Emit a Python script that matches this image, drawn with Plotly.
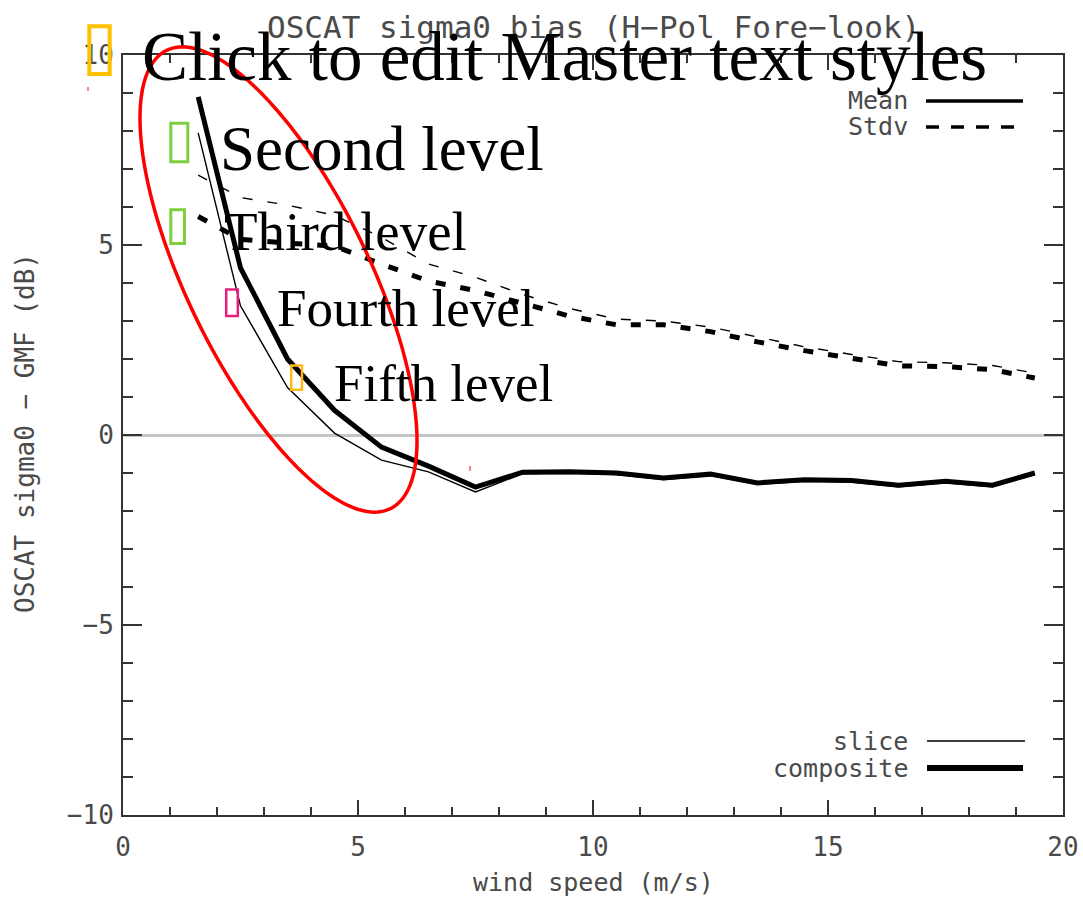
import numpy as np
import plotly.graph_objects as go

# ---- data -------------------------------------------------------------
wind_speed = [1.6, 2.5, 3.5, 4.5, 5.5, 6.5, 7.5, 8.5, 9.5, 10.5,
              11.5, 12.5, 13.5, 14.5, 15.5, 16.5, 17.5, 18.5, 19.4]

composite_mean = [8.9, 4.4, 2.0, 0.65, -0.32, -0.82, -1.37, -0.98, -0.97, -1.0,
                  -1.13, -1.03, -1.26, -1.18, -1.2, -1.32, -1.22, -1.32, -1.0]
slice_mean = [7.95, 3.4, 1.25, 0.05, -0.66, -0.97, -1.5, -1.02, -1.01, -1.04,
              -1.17, -1.07, -1.3, -1.22, -1.24, -1.36, -1.26, -1.36, -1.04]

composite_stdv = [5.75, 5.15, 5.05, 4.97, 4.5, 4.05, 3.8, 3.45, 3.13, 2.9,
                  2.9, 2.72, 2.45, 2.22, 2.03, 1.82, 1.8, 1.72, 1.5]
slice_stdv = [6.84, 6.25, 6.05, 5.78, 5.2, 4.5, 4.15, 3.7, 3.33, 3.05,
              3.0, 2.84, 2.58, 2.32, 2.12, 1.93, 1.9, 1.83, 1.63]

x_ticks = [0, 5, 10, 15, 20]
y_ticks = [-10, -5, 0, 5, 10]

title_text = "OSCAT sigma0 bias (H\u2212Pol Fore\u2212look)"
x_title = "wind speed (m/s)"
y_title = "OSCAT sigma0 \u2212 GMF (dB)"

outline_levels = ["Click to edit Master text styles", "Second level",
                  "Third level", "Fourth level", "Fifth level"]

# ---- page geometry (pixels) -------------------------------------------
W, H = 1083, 897
L, R, T, B = 123, 20, 55, 82
PW, PH = W - L - R, H - T - B


def px(x):
    return (x - L) / PW


def py(y):
    return (H - B - y) / PH


AXIS = "#333333"
MONO = "DejaVu Sans Mono"
TEXT_GREY = "#4a4a4a"
LABEL_FONT = dict(family=MONO, size=26, color=TEXT_GREY)

fig = go.Figure()

# thin = individual slice, thick = composite
fig.add_trace(go.Scatter(x=wind_speed, y=slice_stdv, mode="lines", name="slice Stdv",
                         line=dict(color="black", width=1.4, dash="10px,15px")))
fig.add_trace(go.Scatter(x=wind_speed, y=composite_stdv, mode="lines", name="composite Stdv",
                         line=dict(color="black", width=5, dash="10px,15px")))
fig.add_trace(go.Scatter(x=wind_speed, y=slice_mean, mode="lines", name="slice Mean",
                         line=dict(color="black", width=1.4)))
fig.add_trace(go.Scatter(x=wind_speed, y=composite_mean, mode="lines", name="composite Mean",
                         line=dict(color="black", width=5)))

common_axis = dict(
    showline=True, linecolor=AXIS, linewidth=2, mirror="allticks",
    ticks="inside", tickwidth=2, tickcolor=AXIS, showgrid=False,
    tickfont=LABEL_FONT, tickmode="array", automargin=False,
)
fig.update_xaxes(range=[0, 20], tickvals=x_ticks, ticklen=15, zeroline=False,
                 ticklabelstandoff=8,
                 minor=dict(dtick=1, ticks="inside", ticklen=8, tickwidth=2,
                            tickcolor=AXIS, showgrid=False),
                 **common_axis)
fig.update_yaxes(range=[-10, 10], tickvals=y_ticks, ticklen=19,
                 zeroline=True, zerolinecolor="#c4c4c4", zerolinewidth=3,
                 ticklabelstandoff=2,
                 minor=dict(dtick=1, ticks="inside", ticklen=10, tickwidth=2,
                            tickcolor=AXIS, showgrid=False),
                 **common_axis)

annotations = []
IDL_FONT = dict(family=MONO, size=25, color=TEXT_GREY)
annotations.append(dict(text=title_text, x=0.5, y=py(27), xref="paper", yref="paper",
                        showarrow=False, xanchor="center", yanchor="middle",
                        font=dict(family=MONO, size=31, color=TEXT_GREY)))
annotations.append(dict(text=x_title, x=px(593), y=py(882), xref="paper", yref="paper",
                        showarrow=False, xanchor="center", yanchor="middle",
                        font=dict(family=MONO, size=25, color=TEXT_GREY)))
annotations.append(dict(text=y_title, x=px(25), y=py(433), xref="paper", yref="paper",
                        showarrow=False, xanchor="center", yanchor="middle", textangle=-90,
                        font=dict(family=MONO, size=26, color=TEXT_GREY)))

# line-style key (top right) and thickness key (bottom right)
shapes = []
keys = [
    ("Mean", 101, 926, 1023, 3.5, "solid"),
    ("Stdv", 127, 926, 1015, 3.5, "13px,12px"),
    ("slice", 741, 927, 1025, 1.4, "solid"),
    ("composite", 768, 927, 1023, 6, "solid"),
]
for label, yk, x0, x1, w, dash in keys:
    annotations.append(dict(text=label, x=px(910), y=py(yk), xref="paper", yref="paper",
                            showarrow=False, xanchor="right", yanchor="middle", font=IDL_FONT))
    shapes.append(dict(type="line", xref="paper", yref="paper",
                       x0=px(x0), x1=px(x1), y0=py(yk), y1=py(yk),
                       line=dict(color="black", width=w, dash=dash)))

# outline placeholder text
outline_pos = [(140, 57, 69), (218, 149, 63), (222, 231, 55), (275, 308, 53), (332, 383, 53)]
for txt, (x0, yc, fs) in zip(outline_levels, outline_pos):
    annotations.append(dict(text=txt, x=px(x0), y=py(yc), xref="paper", yref="paper",
                            showarrow=False, xanchor="left", yanchor="middle",
                            font=dict(family="Liberation Serif", size=fs, color="black")))

# bullet boxes
bullets = [
    (89.3, 26.3, 109.7, 74.0, 4, "#FFC000"),
    (170.8, 123.2, 187.8, 161.8, 3, "#7DCF3E"),
    (170.8, 209.8, 184.5, 243.5, 3, "#7DCF3E"),
    (226.2, 289.5, 237.8, 316.0, 2.5, "#E5207B"),
    (291.2, 365.5, 302.0, 389.8, 2.5, "#FFB81C"),
]
for x0, y0, x1, y1, w, c in bullets:
    shapes.append(dict(type="rect", xref="paper", yref="paper",
                       x0=px(x0), x1=px(x1), y0=py(y1), y1=py(y0),
                       line=dict(color=c, width=w)))

# small red specks
for xs, ya, yb in [(88, 87, 91), (470, 466, 471)]:
    shapes.append(dict(type="line", xref="paper", yref="paper",
                       x0=px(xs), x1=px(xs), y0=py(ya), y1=py(yb),
                       line=dict(color="#ff3030", width=1.2)))

# red highlight ellipse (rotated)
cx, cy, a, b, ang = 278.5, 279.5, 255.0, 91.0, np.deg2rad(64.0)
t = np.linspace(0, 2 * np.pi, 181)
ex = cx + a * np.cos(t) * np.cos(ang) - b * np.sin(t) * np.sin(ang)
ey = cy + a * np.cos(t) * np.sin(ang) + b * np.sin(t) * np.cos(ang)
path = "M " + " L ".join(f"{px(u):.5f},{py(v):.5f}" for u, v in zip(ex, ey)) + " Z"
shapes.append(dict(type="path", xref="paper", yref="paper", path=path,
                   line=dict(color="#ff0000", width=3.5), layer="above"))

fig.update_layout(
    width=W, height=H, autosize=False,
    margin=dict(l=L, r=R, t=T, b=B, pad=0),
    paper_bgcolor="white", plot_bgcolor="white",
    showlegend=False,
    annotations=annotations, shapes=shapes,
)

fig.write_html("out.html")
